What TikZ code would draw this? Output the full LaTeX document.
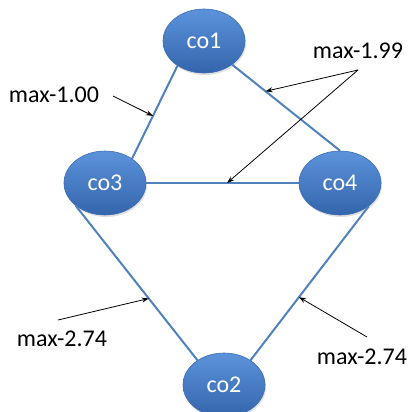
\documentclass[tikz,border=0pt]{standalone}
\usepackage{fontspec}
\setmainfont{Carlito}
\usetikzlibrary{arrows.meta,shapes.geometric,shadows}
\definecolor{edgeblue}{HTML}{4F81BD}
\definecolor{nodetop}{HTML}{5B93DB}
\definecolor{nodebot}{HTML}{3465AC}
\definecolor{nodeedge}{HTML}{3B6DB3}
\begin{document}
\begin{tikzpicture}[x=1pt,y=-1pt,
  conode/.style={ellipse, minimum width=82pt, minimum height=64pt, inner sep=0pt,
    top color=nodetop, bottom color=nodebot, draw=nodeedge, line width=0.6pt,
    text=white, font=\fontsize{24}{28}\selectfont,
    drop shadow={opacity=0.25, shadow xshift=1pt, shadow yshift=-2pt}},
  link/.style={draw=edgeblue, line width=2pt},
  lbl/.style={font=\fontsize{24}{28}\selectfont, inner sep=0pt},
  ptr/.style={-{Stealth[length=7pt,width=5pt]}, line width=0.8pt, black}]
\useasboundingbox (0,0) rectangle (410,412);

% nodes
\node[conode] (co1) at (204,41) {co1};
\node[conode] (co3) at (105,183) {co3};
\node[conode] (co4) at (340,183) {co4};
\node[conode] (co2) at (224,385) {co2};

% links, with marked points where the pointers land
\draw[link] (co1.223) -- coordinate[pos=0.54] (m13) (co3.42);
\draw[link] (co1.320) -- coordinate[pos=0.31] (m14) (co4.90);
\draw[link] (co3) -- coordinate[pos=0.53] (m34) (co4);
\draw[link] (co3.218) -- coordinate[pos=0.60] (m32) (co2.137);
\draw[link] (co4.321) -- coordinate[pos=0.59] (m42) (co2.43);

% labels
\node[lbl] (l100) at (54,95) {max-1.00};
\node[lbl] (l199) at (358,51) {max-1.99};
\node[lbl] (l274a) at (62,339) {max-2.74};
\node[lbl] (l274b) at (362,357) {max-2.74};

% pointer start points
\coordinate (s100) at (113,96);
\coordinate (s199) at (358,70);
\coordinate (s274a) at (58,320);
\coordinate (s274b) at (367,337);

% pointers
\draw[ptr] (s100) -- (m13);
\draw[ptr] (s199) -- (m14);
\draw[ptr] (s199) -- (m34);
\draw[ptr] (s274a) -- (m32);
\draw[ptr] (s274b) -- (m42);
\end{tikzpicture}
\end{document}
